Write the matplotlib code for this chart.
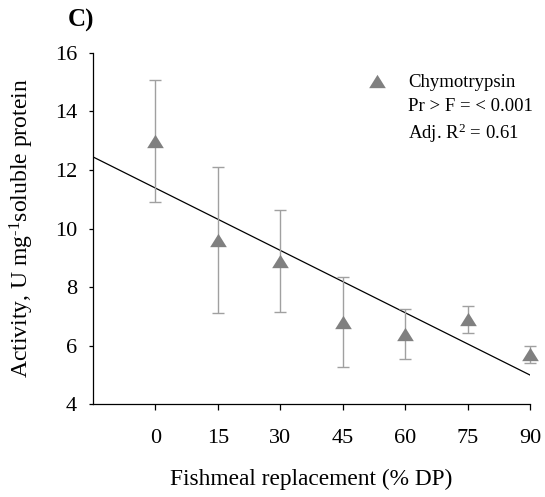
import matplotlib
matplotlib.use("Agg")
import matplotlib.pyplot as plt
from matplotlib.lines import Line2D
import numpy as np

plt.rcParams['font.family'] = ['Liberation Serif', 'DejaVu Serif']
plt.rcParams['mathtext.fontset'] = 'custom'
plt.rcParams['mathtext.rm'] = 'Liberation Serif'
plt.rcParams['mathtext.it'] = 'Liberation Serif:italic'

# ---- data ----
replacement = [0, 15, 30, 45, 60, 75, 90]
activity = [13.0, 9.6, 8.9, 6.8, 6.4, 6.9, 5.7]
activity_err = [2.08, 2.5, 1.74, 1.53, 0.84, 0.46, 0.29]
fit_intercept = 11.38
fit_slope = -0.0709
xticks = [0, 15, 30, 45, 60, 75, 90]
yticks = [4, 6, 8, 10, 12, 14, 16]
series_label = "Chymotrypsin"
stat_lines = ["Pr > F = < 0.001", "Adj. R$^{2}$ = 0.61"]

W, H = 545, 497
fig = plt.figure(figsize=(W / 100, H / 100), dpi=100)
ax = fig.add_axes([93.0 / W, 1 - 404.3 / H, (530 - 93.0) / W, (404.3 - 52.7) / H])

tri = [(-1, -0.8), (1, -0.8), (0, 0.8)]
marker_color = '#808080'
err_color = '#a0a0a0'

# regression line
xl = np.array([-15, 90])
ax.plot(xl, fit_intercept + fit_slope * xl, color='black', lw=0.9, zorder=2)

ax.errorbar(replacement, activity, yerr=activity_err, fmt='none',
            ecolor=err_color, elinewidth=1.0, capsize=4, capthick=1.0,
            zorder=3, clip_on=False)
ax.plot(replacement, activity, linestyle='none', marker=tri, markersize=12,
        color=marker_color, markeredgewidth=0, zorder=4, clip_on=False)

ax.set_xlim(-15, 90)
ax.set_ylim(4, 16)
ax.set_xticks(xticks)
ax.set_yticks(yticks)
ax.spines['top'].set_visible(False)
ax.spines['right'].set_visible(False)
for s in ['left', 'bottom']:
    ax.spines[s].set_linewidth(0.9)
ax.tick_params(axis='x', direction='out', length=4, width=0.9, pad=13.5, labelsize=16)
ax.tick_params(axis='y', direction='out', length=3, width=0.9, pad=8.5, labelsize=16)

fig.text(311.5 / W, 1 - 485 / H, "Fishmeal replacement (% DP)", ha='center',
         va='baseline', fontsize=16.8)
fig.text(22 / W, 1 - 228 / H, r"Activity, U mg$^{\text{-1}}$soluble protein", ha='center',
         va='center', rotation=90, fontsize=17)
fig.text(68 / W, 1 - 27 / H, "C)", ha='left', va='baseline', fontsize=18,
         fontweight='bold')

handles = [Line2D([], [], linestyle='none', marker=tri, markersize=12,
                  color=marker_color, markeredgewidth=0),
           Line2D([], [], linestyle='none'),
           Line2D([], [], linestyle='none')]
labels = [series_label] + stat_lines
leg = ax.legend(handles, labels, loc='upper left',
                bbox_to_anchor=(367.3 / W, 1 - 74 / H), bbox_transform=fig.transFigure,
                frameon=False, fontsize=13.5, borderpad=0, borderaxespad=0,
                handlelength=1.0, handletextpad=1.18, labelspacing=0.35)

fig.savefig("out.png", dpi=100)
